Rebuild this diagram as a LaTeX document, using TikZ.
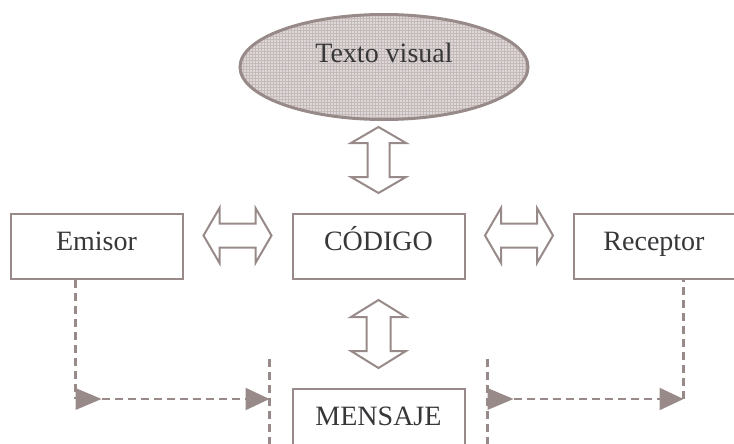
\documentclass[tikz,border=0pt]{standalone}
\usepackage{fontspec}
\setmainfont{Liberation Serif}
\usetikzlibrary{calc,shapes,positioning,patterns}
\usetikzlibrary{arrows.meta}
\definecolor{linegray}{RGB}{151,138,136}
\definecolor{txtgray}{RGB}{55,55,58}
\definecolor{visfill}{RGB}{222,216,216}
\definecolor{visgrid}{RGB}{196,186,186}

\begin{document}
\begin{tikzpicture}[x=1pt,y=-1pt]
          \tikzstyle{bnode} = [draw=linegray, line width=2pt, rectangle, minimum width=172pt, minimum height=65pt, inner sep=0pt, text=txtgray, text height=20pt, text depth=13pt, font=\fontsize{28}{32}\selectfont]
          \tikzstyle{enode} = [draw=linegray, line width=3pt, ellipse, preaction={fill=visfill}, pattern=grid, pattern color=visgrid, minimum width=288pt, minimum height=105pt, inner sep=0pt, text=txtgray, text height=20pt, text depth=29pt, font=\fontsize{28}{32}\selectfont]
          \tikzstyle{darrow} = [draw=linegray, line width=2pt, fill=white, line join=miter]
          \tikzstyle{dline} = [draw=linegray, line width=2.4pt, dash pattern=on 8pt off 5pt]
          \tikzstyle{tip} = [-{Triangle[length=24pt,width=22pt]}]
          \useasboundingbox (0,0) rectangle (734,444);

          \node[bnode] (cod) at (378.5,246.5) {CÓDIGO};
          \node[bnode, left = 108pt of cod] (emi) {Emisor};
          \node[bnode, right = 107pt of cod, minimum width=161pt] (rec) {Receptor};
          \node[bnode, below = 108pt of cod] (men) {MENSAJE};
          \node[enode] (vis) at (384,67) {Texto visual};

          % double arrows round the code
          \coordinate (ml) at ($(emi.east)!0.5!(cod.west)+(0,-11)$);
          \coordinate (mr) at ($(cod.east)!0.5!(rec.west)+(0,-11)$);
          \coordinate (mt) at ($(vis.south -| cod.north)!0.5!(cod.north)+(0,-7)$);
          \coordinate (mb) at ($(cod.south)!0.5!(men.north)$);
          \draw[darrow, shift={(ml)}] (-34,0) -- (-18,-27.5) -- (-18,-12) -- (18,-12) -- (18,-27.5) -- (34,0)
                -- (18,27.5) -- (18,12) -- (-18,12) -- (-18,27.5) -- cycle;
          \draw[darrow, shift={(mr)}] (-34,0) -- (-18,-27.5) -- (-18,-12) -- (18,-12) -- (18,-27.5) -- (34,0)
                -- (18,27.5) -- (18,12) -- (-18,12) -- (-18,27.5) -- cycle;
          \draw[darrow, shift={(mt)}] (0,-33) -- (-27.5,-17) -- (-11,-17) -- (-11,17) -- (-27.5,17) -- (0,33)
                -- (27.5,17) -- (11,17) -- (11,-17) -- (27.5,-17) -- cycle;
          \draw[darrow, shift={(mb)}] (0,-34) -- (-27.5,-17) -- (-12,-17) -- (-12,17) -- (-27.5,17) -- (0,34)
                -- (27.5,17) -- (12,17) -- (12,-17) -- (27.5,-17) -- cycle;

          % dashed flow emisor -> mensaje -> receptor
          \coordinate (lc) at ($(emi.south)+(-21,119)$);
          \coordinate (lt) at ($(men.north west)+(-22,-29)$);
          \coordinate (lb) at ($(men.south west)+(-22,0)$);
          \coordinate (rc) at ($(rec.south)+(29.5,119)$);
          \coordinate (rt) at ($(men.north east)+(22,-29)$);
          \coordinate (rb) at ($(men.south east)+(22,0)$);
          \draw[dline] (lt) -- (lb);
          \draw[dline] (rt) -- (rb);
          \draw[dline] (lc |- emi.south) -- (lc);
          \draw[dline, tip] (lc) -- (lc -| lt);
          \fill[linegray] (lc) -- ++(0,-11) -- ++(26,11) -- ++(-26,11) -- cycle;
          \fill[linegray] (rt |- rc) -- ++(0,-11) -- ++(26,11) -- ++(-26,11) -- cycle;
          \draw[dline, tip] (rt |- rc) -- (rc);
          \draw[dline] (rc) -- (rc |- rec.south);
        \end{tikzpicture}
\end{document}
